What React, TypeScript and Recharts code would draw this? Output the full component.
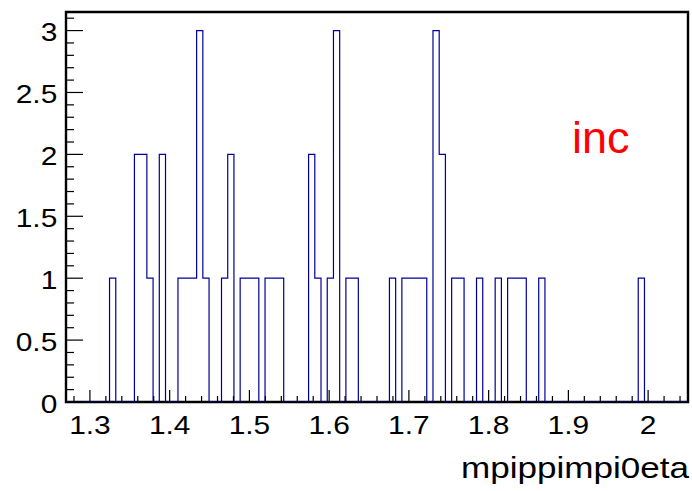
import React from 'react';
import { LineChart, Line, XAxis, YAxis, ReferenceArea, Label } from 'recharts';

const X_MIN = 1.27;
const X_MAX = 2.05;
const BIN_WIDTH = 0.0078;
const Y_MAX = 3.15;

// 100 bins, counts per bin
const binCounts = [
  0, 0, 0, 0, 0, 0, 0, 1, 0, 0,
  0, 2, 2, 1, 0, 2, 0, 0, 1, 1,
  1, 3, 1, 0, 0, 1, 2, 0, 1, 1,
  1, 0, 1, 1, 1, 0, 0, 0, 0, 2,
  1, 0, 1, 3, 0, 1, 1, 0, 0, 0,
  0, 0, 1, 0, 1, 1, 1, 1, 0, 3,
  2, 0, 1, 1, 0, 0, 1, 0, 0, 1,
  0, 1, 1, 1, 0, 0, 1, 0, 0, 0,
  0, 0, 0, 0, 0, 0, 0, 0, 0, 0,
  0, 0, 1, 0, 0, 0, 0, 0, 0, 0,
];

const xMajorTicks = [1.3, 1.4, 1.5, 1.6, 1.7, 1.8, 1.9, 2.0];
const xMajorLabels = ['1.3', '1.4', '1.5', '1.6', '1.7', '1.8', '1.9', '2'];
const yMajorTicks = [0, 0.5, 1, 1.5, 2, 2.5, 3];
const yMajorLabels = ['0', '0.5', '1', '1.5', '2', '2.5', '3'];
const xTitle = 'mpippimpi0eta';
const annotation = 'inc';

const FONT = '"Liberation Sans", Arial, Helvetica, sans-serif';

const data = [
  ...binCounts.map((c, i) => ({ x: +(X_MIN + i * BIN_WIDTH).toFixed(4), y: c })),
  { x: X_MAX, y: binCounts[binCounts.length - 1] },
];

const xTicks: number[] = [];
for (let k = 0; k <= 38; k++) xTicks.push(+(1.28 + 0.02 * k).toFixed(2));
const yTicks: number[] = [];
for (let k = 0; k <= 31; k++) yTicks.push(+(0.1 * k).toFixed(1));

const XTick = (props: any) => {
  const { x, y, payload } = props;
  const v = payload.value;
  const idx = xMajorTicks.findIndex((t) => Math.abs(t - v) < 1e-6);
  const major = idx >= 0;
  return (
    <g>
      <line x1={x} x2={x} y1={y} y2={y - (major ? 12 : 6)} stroke="#000" strokeWidth={1.2} />
      {major && (
        <text
          transform={`translate(${x},${y + 32}) scale(1.15,1)`}
          textAnchor="middle"
          fontSize={26}
          fontFamily={FONT}
          fill="#000"
        >
          {xMajorLabels[idx]}
        </text>
      )}
    </g>
  );
};

const YTick = (props: any) => {
  const { x, y, payload } = props;
  const v = payload.value;
  const idx = yMajorTicks.findIndex((t) => Math.abs(t - v) < 1e-6);
  const major = idx >= 0;
  return (
    <g>
      <line x1={x} x2={x + (major ? 17 : 8)} y1={y} y2={y} stroke="#000" strokeWidth={1.2} />
      {major && (
        <text
          transform={`translate(${x - 8.7},${y + 10.5}) scale(1.15,1)`}
          textAnchor="end"
          fontSize={26}
          fontFamily={FONT}
          fill="#000"
        >
          {yMajorLabels[idx]}
        </text>
      )}
    </g>
  );
};

export default function App() {
  return (
    <div style={{ position: 'fixed', left: 0, top: 0, width: 692, height: 491, background: '#fff', overflow: 'hidden' }}>
      <LineChart width={692} height={491} data={data} margin={{ top: 12, right: 4, left: 0, bottom: 0 }}>
        <XAxis
          dataKey="x"
          type="number"
          domain={[X_MIN, X_MAX]}
          ticks={xTicks}
          interval={0}
          tick={<XTick />}
          tickLine={false}
          axisLine={false}
          tickSize={0}
          tickMargin={0}
          height={89}
          allowDataOverflow
        >
          <Label
            content={(p: any) => {
              const vb = p.viewBox;
              return (
                <text
                  x={vb.x + vb.width + 1}
                  y={vb.y + 76.3}
                  textAnchor="end"
                  fontSize={29}
                  fontFamily={FONT}
                  fill="#000"
                  textLength={228}
                  lengthAdjust="spacingAndGlyphs"
                >
                  {xTitle}
                </text>
              );
            }}
          />
        </XAxis>
        <YAxis
          type="number"
          domain={[0, Y_MAX]}
          ticks={yTicks}
          interval={0}
          tick={<YTick />}
          tickLine={false}
          axisLine={false}
          tickSize={0}
          tickMargin={0}
          width={66}
          allowDataOverflow
        />
        <ReferenceArea
          x1={X_MIN}
          x2={X_MAX}
          y1={0}
          y2={Y_MAX}
          fill="none"
          fillOpacity={0}
          stroke="#000"
          strokeWidth={2.4}
        >
          <Label
            content={(p: any) => {
              const vb = p.viewBox;
              return (
                <text x={vb.x + 506} y={vb.y + 140.5} fontSize={45} fontFamily={FONT} fill="#ff0000">
                  {annotation}
                </text>
              );
            }}
          />
        </ReferenceArea>
        <Line
          type="stepAfter"
          dataKey="y"
          stroke="#000099"
          strokeWidth={1.2}
          dot={false}
          activeDot={false}
          isAnimationActive={false}
        />
      </LineChart>
    </div>
  );
}
